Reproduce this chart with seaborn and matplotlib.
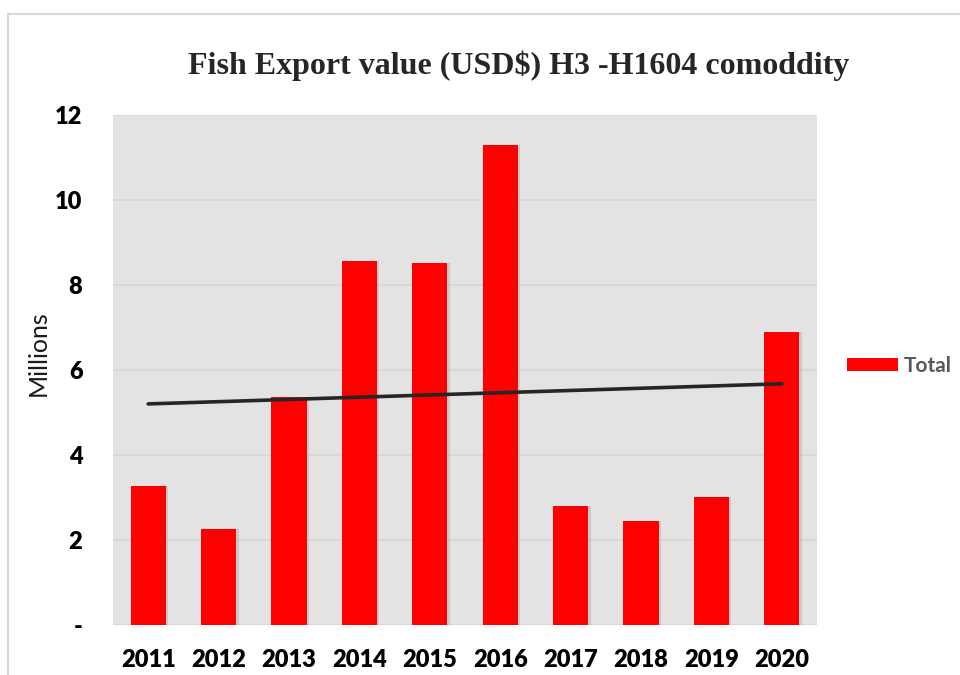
import numpy as np
import pandas as pd
import matplotlib
matplotlib.use("Agg")
import matplotlib.pyplot as plt
from matplotlib.patches import Rectangle, Patch
import seaborn as sns

years = ["2011", "2012", "2013", "2014", "2015", "2016", "2017", "2018", "2019", "2020"]
export_millions = [3.26, 2.27, 5.36, 8.56, 8.52, 11.29, 2.79, 2.45, 3.00, 6.89]
y_ticks = [0, 2, 4, 6, 8, 10, 12]
y_tick_labels = ["-", "2", "4", "6", "8", "10", "12"]
title = "Fish Export value (USD$) H3 -H1604 comoddity"
series_name = "Total"

df = pd.DataFrame({"year": years, "value": export_millions})

sns.set_theme(style="white")
plt.rcParams["font.family"] = ["Lato", "DejaVu Sans"]

fig = plt.figure(figsize=(9.6, 6.75), dpi=100)
ax = fig.add_axes([0.1177, 0.0741, 0.7333, 0.7555])

# outer chart frame (right and bottom edges run off the canvas)
fig.patches.append(Rectangle((0.0085, -0.05), 1.2, 1.029,
                             transform=fig.transFigure, fill=False,
                             edgecolor="#d9d9d9", linewidth=1.5))

ax.set_facecolor("#e3e3e3")
ax.set_axisbelow(True)
ax.yaxis.grid(True, color="#d6d6d6", linewidth=1.2)
ax.xaxis.grid(False)

# soft shadow behind bars
x = np.arange(len(years))
ax.bar(x + 0.035, df["value"], width=0.5, color="#9a9a9a", alpha=0.35,
       linewidth=0, zorder=1)
sns.barplot(data=df, x="year", y="value", color="#ff0000", saturation=1,
            width=0.5, ax=ax, zorder=2, linewidth=0)

# linear trend line over the series
coef = np.polyfit(x, df["value"], 1)
ax.plot(x, np.polyval(coef, x), color="#262626", linewidth=2.6,
        solid_capstyle="round", zorder=3)

ax.set_xlim(-0.5, len(years) - 0.5)
ax.set_ylim(0, 12)
ax.set_yticks(y_ticks)
ax.set_yticklabels(y_tick_labels)
for s in ax.spines.values():
    s.set_visible(False)
ax.tick_params(axis="both", length=0, labelsize=17)
ax.tick_params(axis="y", pad=22)
ax.tick_params(axis="x", pad=17)
for lbl in ax.get_xticklabels() + ax.get_yticklabels():
    lbl.set_fontweight("heavy")
    lbl.set_color("black")
ax.set_xlabel("")
ax.set_ylabel("")
fig.text(0.040, 0.477, "Millions", rotation=90, ha="center", va="center",
         fontsize=18, color="#1a1a1a")

fig.text(0.540, 0.902, title, ha="center", va="center",
         fontsize=23, fontweight="bold", family=["Liberation Serif", "DejaVu Serif"])

fig.legend(handles=[Patch(facecolor="#ff0000", edgecolor="none", label=series_name)],
           loc="center left", bbox_to_anchor=(847 / 960, 1 - 366 / 675),
           bbox_transform=fig.transFigure, frameon=False,
           borderpad=0, borderaxespad=0,
           handlelength=2.45, handleheight=0.62, handletextpad=0.25,
           prop={"size": 15, "weight": "bold"}, labelcolor="#595959")

fig.savefig("out.png", dpi=100)
